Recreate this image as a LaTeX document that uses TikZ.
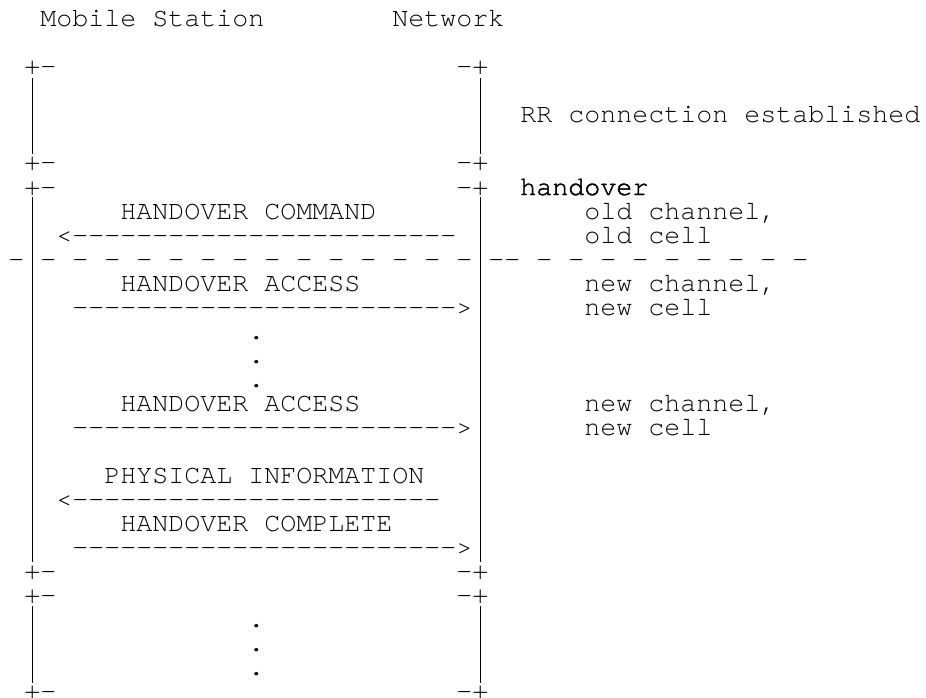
\documentclass[tikz,border=0pt]{standalone}
\usepackage{fontspec}
\setmonofont{TeX Gyre Cursor}
\newfontfamily\hbold[FakeBold=1.5]{TeX Gyre Cursor}
% column k -> left edge 24.3+16k ; row n -> baseline 27+24n
\newcommand\Txt[4]{\node[tt] (#1) at ({24.3+16*(#2)},{27+24*(#3)}) {#4};}
\begin{document}
\begin{tikzpicture}[x=1pt,y=-1pt,
  tt/.style={font=\fontsize{26.67}{32}\selectfont\ttfamily, inner sep=0pt, outer sep=0pt, anchor=base west, text=black},
  ttb/.style={font=\fontsize{26.67}{32}\selectfont\hbold, inner sep=0pt, outer sep=0pt, anchor=base west, text=black},
  life/.style={line width=1.2pt, draw=black}]
\useasboundingbox (0,0) rectangle (926,698);
% headers
\Txt{ms}{1}{0}{Mobile Station}
\Txt{nw}{23}{0}{Network}
% boxes corners
\Txt{c2l}{0}{2}{+-}   \Txt{c2r}{27}{2}{-+}
\Txt{c6l}{0}{6}{+-}   \Txt{c6r}{27}{6}{-+}
\Txt{c7l}{0}{7}{+-}   \Txt{c7r}{27}{7}{-+}
\Txt{c23l}{0}{23}{+-} \Txt{c23r}{27}{23}{-+}
\Txt{c24l}{0}{24}{+-} \Txt{c24r}{27}{24}{-+}
\Txt{c28l}{0}{28}{+-} \Txt{c28r}{27}{28}{-+}
% right-hand notes
\Txt{rr}{31}{4}{RR connection established}
\node[ttb] (ho) at ({24.3+16*31},{27+24*7}) {handover};
\Txt{oc1}{35}{8}{old channel,}
\Txt{oc2}{35}{9}{old cell}
\Txt{nc1}{35}{11}{new channel,}
\Txt{nc2}{35}{12}{new cell}
\Txt{nc3}{35}{16}{new channel,}
\Txt{nc4}{35}{17}{new cell}
% messages
\Txt{m1}{6}{8}{HANDOVER COMMAND}
\Txt{a1}{2}{9}{<------------------------}
\Txt{m2}{6}{11}{HANDOVER ACCESS}
\Txt{a2}{3}{12}{------------------------>}
\Txt{d1}{14}{13}{.}
\Txt{d2}{14}{14}{.}
\Txt{d3}{14}{15}{.}
\Txt{m3}{6}{16}{HANDOVER ACCESS}
\Txt{a3}{3}{17}{------------------------>}
\Txt{m4}{5}{19}{PHYSICAL INFORMATION}
\Txt{a4}{2}{20}{<-----------------------}
\Txt{m5}{6}{21}{HANDOVER COMPLETE}
\Txt{a5}{3}{22}{------------------------>}
\Txt{d4}{14}{25}{.}
\Txt{d5}{14}{26}{.}
\Txt{d6}{14}{27}{.}
% channel change separator
\Txt{s1}{-1}{10}{-}
\Txt{s2}{1}{10}{- - - - - - - - - - - - - -}
\Txt{s3}{29}{10}{-- - - - - - - - - -}
% lifelines
\coordinate (L1t) at (32.3,78);   \coordinate (L1b) at (32.3,154);
\coordinate (R1t) at (480.3,78);  \coordinate (R1b) at (480.3,154);
\coordinate (L2t) at (32.3,197);  \coordinate (L2b) at (32.3,562);
\coordinate (R2t) at (480.3,197); \coordinate (R2b) at (480.3,562);
\coordinate (L3t) at (32.3,606);  \coordinate (L3b) at (32.3,683);
\coordinate (R3t) at (480.3,606); \coordinate (R3b) at (480.3,683);
\draw[life] (L1t) -- (L1b);
\draw[life] (R1t) -- (R1b);
\draw[life] (L2t) -- (L2b);
\draw[life] (R2t) -- (R2b);
\draw[life] (L3t) -- (L3b);
\draw[life] (R3t) -- (R3b);
\end{tikzpicture}
\end{document}
